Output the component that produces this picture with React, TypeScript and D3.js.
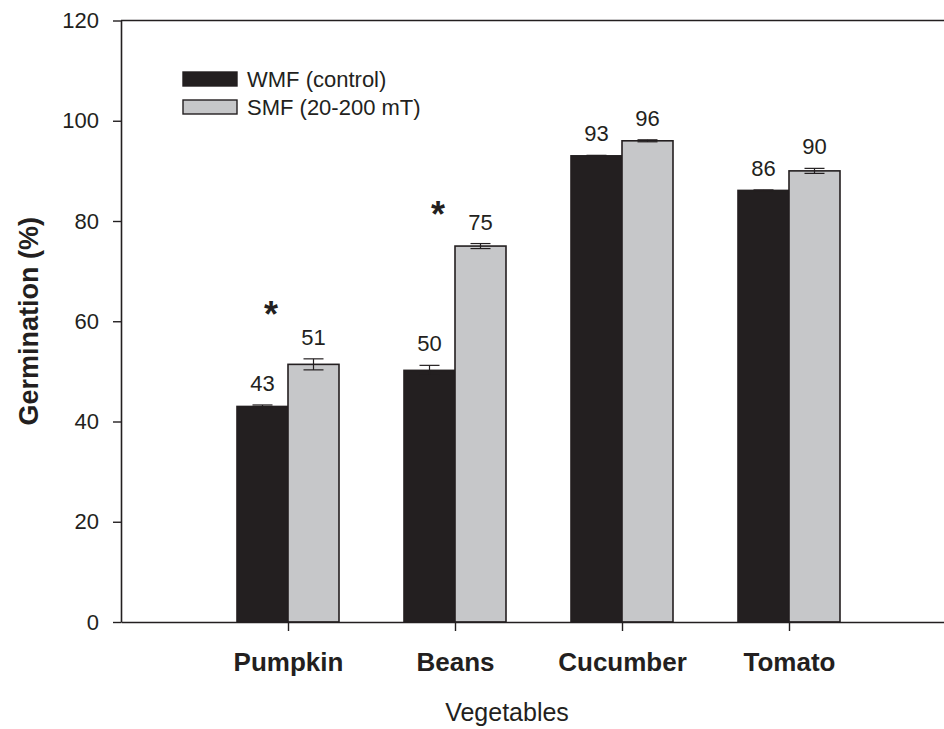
import React, { useEffect, useRef } from 'react';
import * as d3 from 'd3';

const categories = ['Pumpkin', 'Beans', 'Cucumber', 'Tomato'];
const wmfValues = [43, 50.2, 93, 86.1];
const wmfErrors = [0.3, 1, 0.1, 0.1];
const smfValues = [51.4, 75, 96, 90];
const smfErrors = [1.1, 0.5, 0.2, 0.5];
const wmfLabels = ['43', '50', '93', '86'];
const smfLabels = ['51', '75', '96', '90'];
// significance marks: category and the height (in %) where the star sits
const starCategories = ['Pumpkin', 'Beans'];
const starLevels = [62.9, 82.8];
const yTicks = [0, 20, 40, 60, 80, 100, 120];
const seriesNames = ['WMF (control)', 'SMF (20-200 mT)'];

const DARK = '#231f20';
const GRAY = '#c6c7c9';
const FONT = 'Liberation Sans, Arial, Helvetica, sans-serif';

const App = () => {
  const svgRef = useRef(null);

  useEffect(() => {
    const svg = d3.select(svgRef.current);
    svg.selectAll('*').remove();

    const width = 944;
    const height = 729;

    // category slots 1..4 on a 0..5 axis, right part runs off the picture
    const x = d3.scaleLinear().domain([0, 5]).range([121, 956]);
    const y = d3.scaleLinear().domain([0, 120]).range([622, 20.5]);
    const barW = 51;

    const g = svg.attr('width', width).attr('height', height).append('g');

    const series = [
      { values: wmfValues, errors: wmfErrors, labels: wmfLabels, fill: DARK, off: -barW },
      { values: smfValues, errors: smfErrors, labels: smfLabels, fill: GRAY, off: 0 },
    ];

    series.forEach(s => {
      const cx = i => x(i + 1) + s.off + barW / 2;

      g.selectAll(null)
        .data(categories)
        .join('rect')
        .attr('x', (d, i) => x(i + 1) + s.off)
        .attr('y', (d, i) => y(s.values[i]))
        .attr('width', barW)
        .attr('height', (d, i) => y(0) - y(s.values[i]))
        .attr('fill', s.fill)
        .attr('stroke', DARK)
        .attr('stroke-width', 1.6);

      // error bars
      const eb = g.selectAll(null)
        .data(categories)
        .join('g')
        .attr('stroke', DARK)
        .attr('stroke-width', 1.2);
      eb.append('line')
        .attr('x1', (d, i) => cx(i))
        .attr('x2', (d, i) => cx(i))
        .attr('y1', (d, i) => y(s.values[i] + s.errors[i]))
        .attr('y2', (d, i) => y(s.values[i] - s.errors[i]));
      [1, -1].forEach(sign => {
        eb.append('line')
          .attr('x1', (d, i) => cx(i) - 10)
          .attr('x2', (d, i) => cx(i) + 10)
          .attr('y1', (d, i) => y(s.values[i] + sign * s.errors[i]))
          .attr('y2', (d, i) => y(s.values[i] + sign * s.errors[i]));
      });

      // value labels
      g.selectAll(null)
        .data(categories)
        .join('text')
        .attr('x', (d, i) => cx(i))
        .attr('y', (d, i) => y(s.values[i] + s.errors[i]) - 14)
        .attr('text-anchor', 'middle')
        .attr('font-family', FONT)
        .attr('font-size', 22)
        .attr('fill', DARK)
        .text((d, i) => s.labels[i]);
    });

    // significance asterisks
    g.selectAll(null)
      .data(starCategories)
      .join('text')
      .attr('x', d => x(categories.indexOf(d) + 1) - 17)
      .attr('y', (d, i) => y(starLevels[i]) + 20)
      .attr('text-anchor', 'middle')
      .attr('font-family', FONT)
      .attr('font-weight', 'bold')
      .attr('font-size', 36)
      .attr('fill', DARK)
      .text('*');

    // axes
    const yAxis = g.append('g')
      .attr('transform', `translate(${x(0)},0)`)
      .call(d3.axisLeft(y).tickValues(yTicks).tickSize(8).tickPadding(14).tickSizeOuter(0));
    yAxis.select('.domain').attr('stroke', DARK).attr('stroke-width', 1.6);
    yAxis.selectAll('.tick line').attr('stroke', DARK).attr('stroke-width', 1.4);
    yAxis.selectAll('.tick text')
      .attr('font-family', FONT)
      .attr('font-size', 22)
      .attr('fill', DARK);

    const xAxis = g.append('g')
      .attr('transform', `translate(0,${y(0)})`)
      .call(d3.axisBottom(x).tickValues([1, 2, 3, 4]).tickSize(9).tickSizeOuter(0).tickPadding(22)
        .tickFormat(d => categories[+d - 1]));
    xAxis.select('.domain').attr('stroke', DARK).attr('stroke-width', 1.6);
    xAxis.selectAll('.tick line').attr('stroke', DARK).attr('stroke-width', 1.4);
    xAxis.selectAll('.tick text')
      .attr('font-family', FONT)
      .attr('font-size', 26)
      .attr('font-weight', 'bold')
      .attr('fill', DARK);

    // top frame line
    g.append('line')
      .attr('x1', x(0)).attr('x2', x(5))
      .attr('y1', y(120)).attr('y2', y(120))
      .attr('stroke', DARK).attr('stroke-width', 1.6);

    // axis titles
    g.append('text')
      .attr('transform', `translate(38,${(y(0) + y(120)) / 2}) rotate(-90)`)
      .attr('text-anchor', 'middle')
      .attr('font-family', FONT)
      .attr('font-size', 27)
      .attr('font-weight', 'bold')
      .attr('fill', DARK)
      .text('Germination (%)');

    g.append('text')
      .attr('x', 507)
      .attr('y', 721)
      .attr('text-anchor', 'middle')
      .attr('font-family', FONT)
      .attr('font-size', 25)
      .attr('fill', DARK)
      .text('Vegetables');

    // legend
    const legend = g.append('g').attr('transform', 'translate(183,72)');
    [DARK, GRAY].forEach((c, i) => {
      legend.append('rect')
        .attr('x', 0).attr('y', i * 28)
        .attr('width', 54).attr('height', 14)
        .attr('fill', c).attr('stroke', DARK).attr('stroke-width', 1.4);
      legend.append('text')
        .attr('x', 64).attr('y', i * 28 + 7)
        .attr('dy', '0.35em')
        .attr('font-family', FONT)
        .attr('font-size', 22)
        .attr('fill', DARK)
        .text(seriesNames[i]);
    });
  }, []);

  return (
    <svg ref={svgRef} style={{ position: 'absolute', left: 0, top: 0, display: 'block' }} />
  );
};

export default App;
